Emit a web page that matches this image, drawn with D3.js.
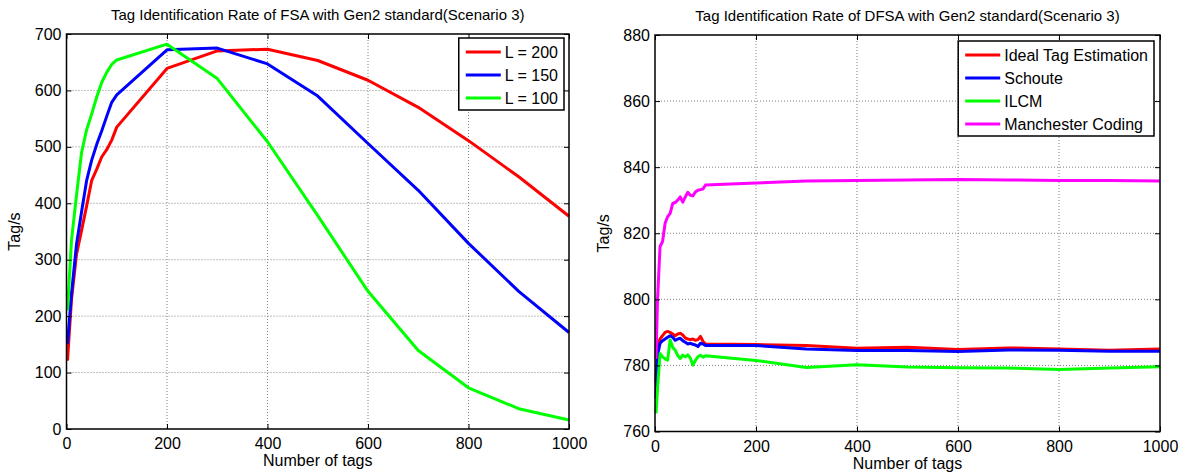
<!DOCTYPE html>
<html>
<head>
<meta charset="utf-8">
<script src="https://d3js.org/d3.v7.min.js"></script>
<style>
    body { margin: 0; background: #fff; }
    svg text { font-family: "Liberation Sans", Arial, sans-serif; fill: #000; }
</style>
</head>
<body>
<svg id="chart" width="1187" height="472"></svg>
<script>

    // left panel: FSA, three frame lengths
    var fsaTags = [2, 10, 20, 30, 40, 50, 60, 70, 80, 90, 100, 200, 300, 400, 500, 600, 700, 800, 900, 1000];
    var fsaL200 = [121, 230, 310, 352, 395, 440, 460, 482, 495, 512, 535, 639, 670, 673, 653, 618, 570, 511, 447, 377];
    var fsaL150 = [151, 240, 328, 385, 440, 476, 504, 528, 554, 579, 592, 672, 675, 647, 590, 506, 423, 329, 244, 171];
    var fsaL100 = [210, 335, 415, 490, 530, 558, 588, 614, 632, 646, 654, 682, 621, 509, 378, 244, 139, 73, 36, 16];
    var fsaNames = ["L = 200", "L = 150", "L = 100"];
    var fsaXTicks = [0, 200, 400, 600, 800, 1000];
    var fsaYTicks = [0, 100, 200, 300, 400, 500, 600, 700];

    // right panel: DFSA, four estimation methods
    var dfsaTags = [2, 5, 10, 15, 20, 25, 30, 35, 40, 45, 50, 55, 60, 65, 70, 75, 80, 85, 90, 95, 100,
                    200, 300, 400, 500, 600, 700, 800, 900, 1000];
    var dfsaIdeal = [775, 786, 788, 789, 790, 790.3, 790, 789.5, 789, 789.5, 789.7, 789.2, 788.3, 788, 787.8, 788, 787.6, 787.8, 788.8, 787.3, 786.5,
                     786.3, 786, 785.2, 785.5, 784.8, 785.3, 785, 784.6, 785];
    var dfsaSchoute = [770, 783, 786.7, 787.5, 788, 788.5, 789, 788.5, 787.6, 788, 788.2, 787.5, 787, 786.5, 786.7, 786.4, 786.2, 785.7, 786.7, 786.5, 786,
                       786, 785, 784.5, 784.5, 784.2, 784.7, 784.6, 784.3, 784.3];
    var dfsaIlcm = [765.5, 773, 783.6, 782.6, 782, 781.6, 787.7, 785.5, 784.6, 783, 782.1, 783.1, 782.6, 783.2, 782.2, 780.1, 781.5, 782.6, 783.1, 782.5, 782.9,
                    781.5, 779.4, 780.2, 779.5, 779.3, 779.2, 778.8, 779.2, 779.6];
    var dfsaManchester = [782, 800, 816, 817.5, 823, 825, 826, 829, 829.3, 830, 831, 829.4, 831, 832.4, 831.5, 831.3, 832.5, 833, 833.2, 833.4, 834.6,
                          835.2, 835.8, 836, 836.1, 836.3, 836.1, 836, 836, 835.8];
    var dfsaNames = ["Ideal Tag Estimation", "Schoute", "ILCM", "Manchester Coding"];
    var dfsaXTicks = [0, 200, 400, 600, 800, 1000];
    var dfsaYTicks = [760, 780, 800, 820, 840, 860, 880];

    var svg = d3.select("#chart");
    svg.append("rect").attr("width", 1187).attr("height", 472).attr("fill", "#fff");

    function drawPanel(opt) {
        var width = opt.right - opt.left,
            height = opt.bottom - opt.top;

        var g = svg.append("g")
            .attr("transform", "translate(" + opt.left + "," + opt.top + ")");

        var x = d3.scaleLinear().domain([opt.xTicks[0], opt.xTicks[opt.xTicks.length - 1]]).range([0, width]);
        var y = d3.scaleLinear().domain([opt.yTicks[0], opt.yTicks[opt.yTicks.length - 1]]).range([height, 0]);

        // dotted grid
        g.append("g").selectAll("line")
            .data(opt.xTicks.slice(1, -1))
            .enter().append("line")
            .attr("x1", function (d) { return x(d); })
            .attr("x2", function (d) { return x(d); })
            .attr("y1", 0).attr("y2", height)
            .attr("stroke", "#808080").attr("stroke-dasharray", "1,2");
        g.append("g").selectAll("line")
            .data(opt.yTicks.slice(1, -1))
            .enter().append("line")
            .attr("y1", function (d) { return y(d); })
            .attr("y2", function (d) { return y(d); })
            .attr("x1", 0).attr("x2", width)
            .attr("stroke", "#808080").attr("stroke-dasharray", "1,2");

        // series
        var line = d3.line()
            .x(function (d) { return x(d[0]); })
            .y(function (d) { return y(d[1]); });
        opt.series.forEach(function (s) {
            g.append("path")
                .datum(d3.zip(opt.xs, s.values))
                .attr("d", line)
                .attr("fill", "none")
                .attr("stroke", s.color)
                .attr("stroke-width", 3)
                .attr("stroke-linejoin", "round");
        });

        // axes, ticks pointing inward on all four sides
        var fmt = d3.format("d");
        var bottom = g.append("g")
            .attr("transform", "translate(0," + height + ")")
            .call(d3.axisBottom(x).tickValues(opt.xTicks).tickFormat(fmt).tickSizeInner(-5).tickSizeOuter(0).tickPadding(5));
        var left = g.append("g")
            .call(d3.axisLeft(y).tickValues(opt.yTicks).tickFormat(fmt).tickSizeInner(-5).tickSizeOuter(0).tickPadding(5));
        g.append("g")
            .call(d3.axisTop(x).tickValues(opt.xTicks).tickSizeInner(-5).tickSizeOuter(0).tickFormat(""));
        g.append("g")
            .attr("transform", "translate(" + width + ",0)")
            .call(d3.axisRight(y).tickValues(opt.yTicks).tickSizeInner(-5).tickSizeOuter(0).tickFormat(""));
        g.selectAll(".domain").remove();
        g.selectAll(".tick line").attr("stroke", "#000");
        bottom.selectAll("text").style("font-size", "16px").attr("dy", "0.95em");
        left.selectAll("text").style("font-size", "16px");

        g.append("rect")
            .attr("width", width).attr("height", height)
            .attr("fill", "none").attr("stroke", "#000").attr("stroke-width", 1.5);

        // title and axis labels
        g.append("text")
            .attr("x", width / 2).attr("y", -14)
            .style("text-anchor", "middle").style("font-size", "15px")
            .text(opt.title);
        g.append("text")
            .attr("x", width / 2).attr("y", height + 37)
            .style("text-anchor", "middle").style("font-size", "16px")
            .text("Number of tags");
        g.append("text")
            .attr("transform", "rotate(-90)")
            .attr("x", -height / 2).attr("y", opt.ylabelX)
            .style("text-anchor", "middle").style("font-size", "16px")
            .text("Tag/s");

        // legend
        var lg = svg.append("g");
        var items = lg.selectAll("g.item")
            .data(opt.series)
            .enter().append("g")
            .attr("class", "item")
            .attr("transform", function (d, i) { return "translate(0," + (i * 23) + ")"; });
        items.append("text")
            .attr("x", 46).attr("y", 0).attr("dy", "0.35em")
            .style("font-size", "16px")
            .text(function (d) { return d.name; });
        var textW = d3.max(items.selectAll("text").nodes(), function (n) { return n.getComputedTextLength(); });
        var boxW = 46 + textW + 6,
            boxH = 14 + (opt.series.length - 1) * 23 + 12;
        lg.insert("rect", ":first-child")
            .attr("x", 0).attr("y", -14)
            .attr("width", boxW).attr("height", boxH)
            .attr("fill", "#fff").attr("stroke", "#000").attr("stroke-width", 1.5);
        items.append("line")
            .attr("x1", 7).attr("x2", 42)
            .attr("stroke", function (d) { return d.color; })
            .attr("stroke-width", 3);
        lg.attr("transform", "translate(" + (opt.legendRight - boxW) + "," + (opt.legendTop + 14) + ")");
    }

    drawPanel({
        left: 66.5, right: 569, top: 34, bottom: 429,
        xTicks: fsaXTicks, yTicks: fsaYTicks, xs: fsaTags,
        title: "Tag Identification Rate of FSA with Gen2 standard(Scenario 3)",
        ylabelX: -47,
        legendRight: 564, legendTop: 38,
        series: [
            {name: fsaNames[0], values: fsaL200, color: "#ff0000"},
            {name: fsaNames[1], values: fsaL150, color: "#0000ff"},
            {name: fsaNames[2], values: fsaL100, color: "#00ff00"}
        ]
    });

    drawPanel({
        left: 655, right: 1160, top: 35, bottom: 431.5,
        xTicks: dfsaXTicks, yTicks: dfsaYTicks, xs: dfsaTags,
        title: "Tag Identification Rate of DFSA with Gen2 standard(Scenario 3)",
        ylabelX: -46,
        legendRight: 1154, legendTop: 41,
        series: [
            {name: dfsaNames[0], values: dfsaIdeal, color: "#ff0000"},
            {name: dfsaNames[1], values: dfsaSchoute, color: "#0000ff"},
            {name: dfsaNames[2], values: dfsaIlcm, color: "#00ff00"},
            {name: dfsaNames[3], values: dfsaManchester, color: "#ff00ff"}
        ]
    });

</script>
</body>
</html>
